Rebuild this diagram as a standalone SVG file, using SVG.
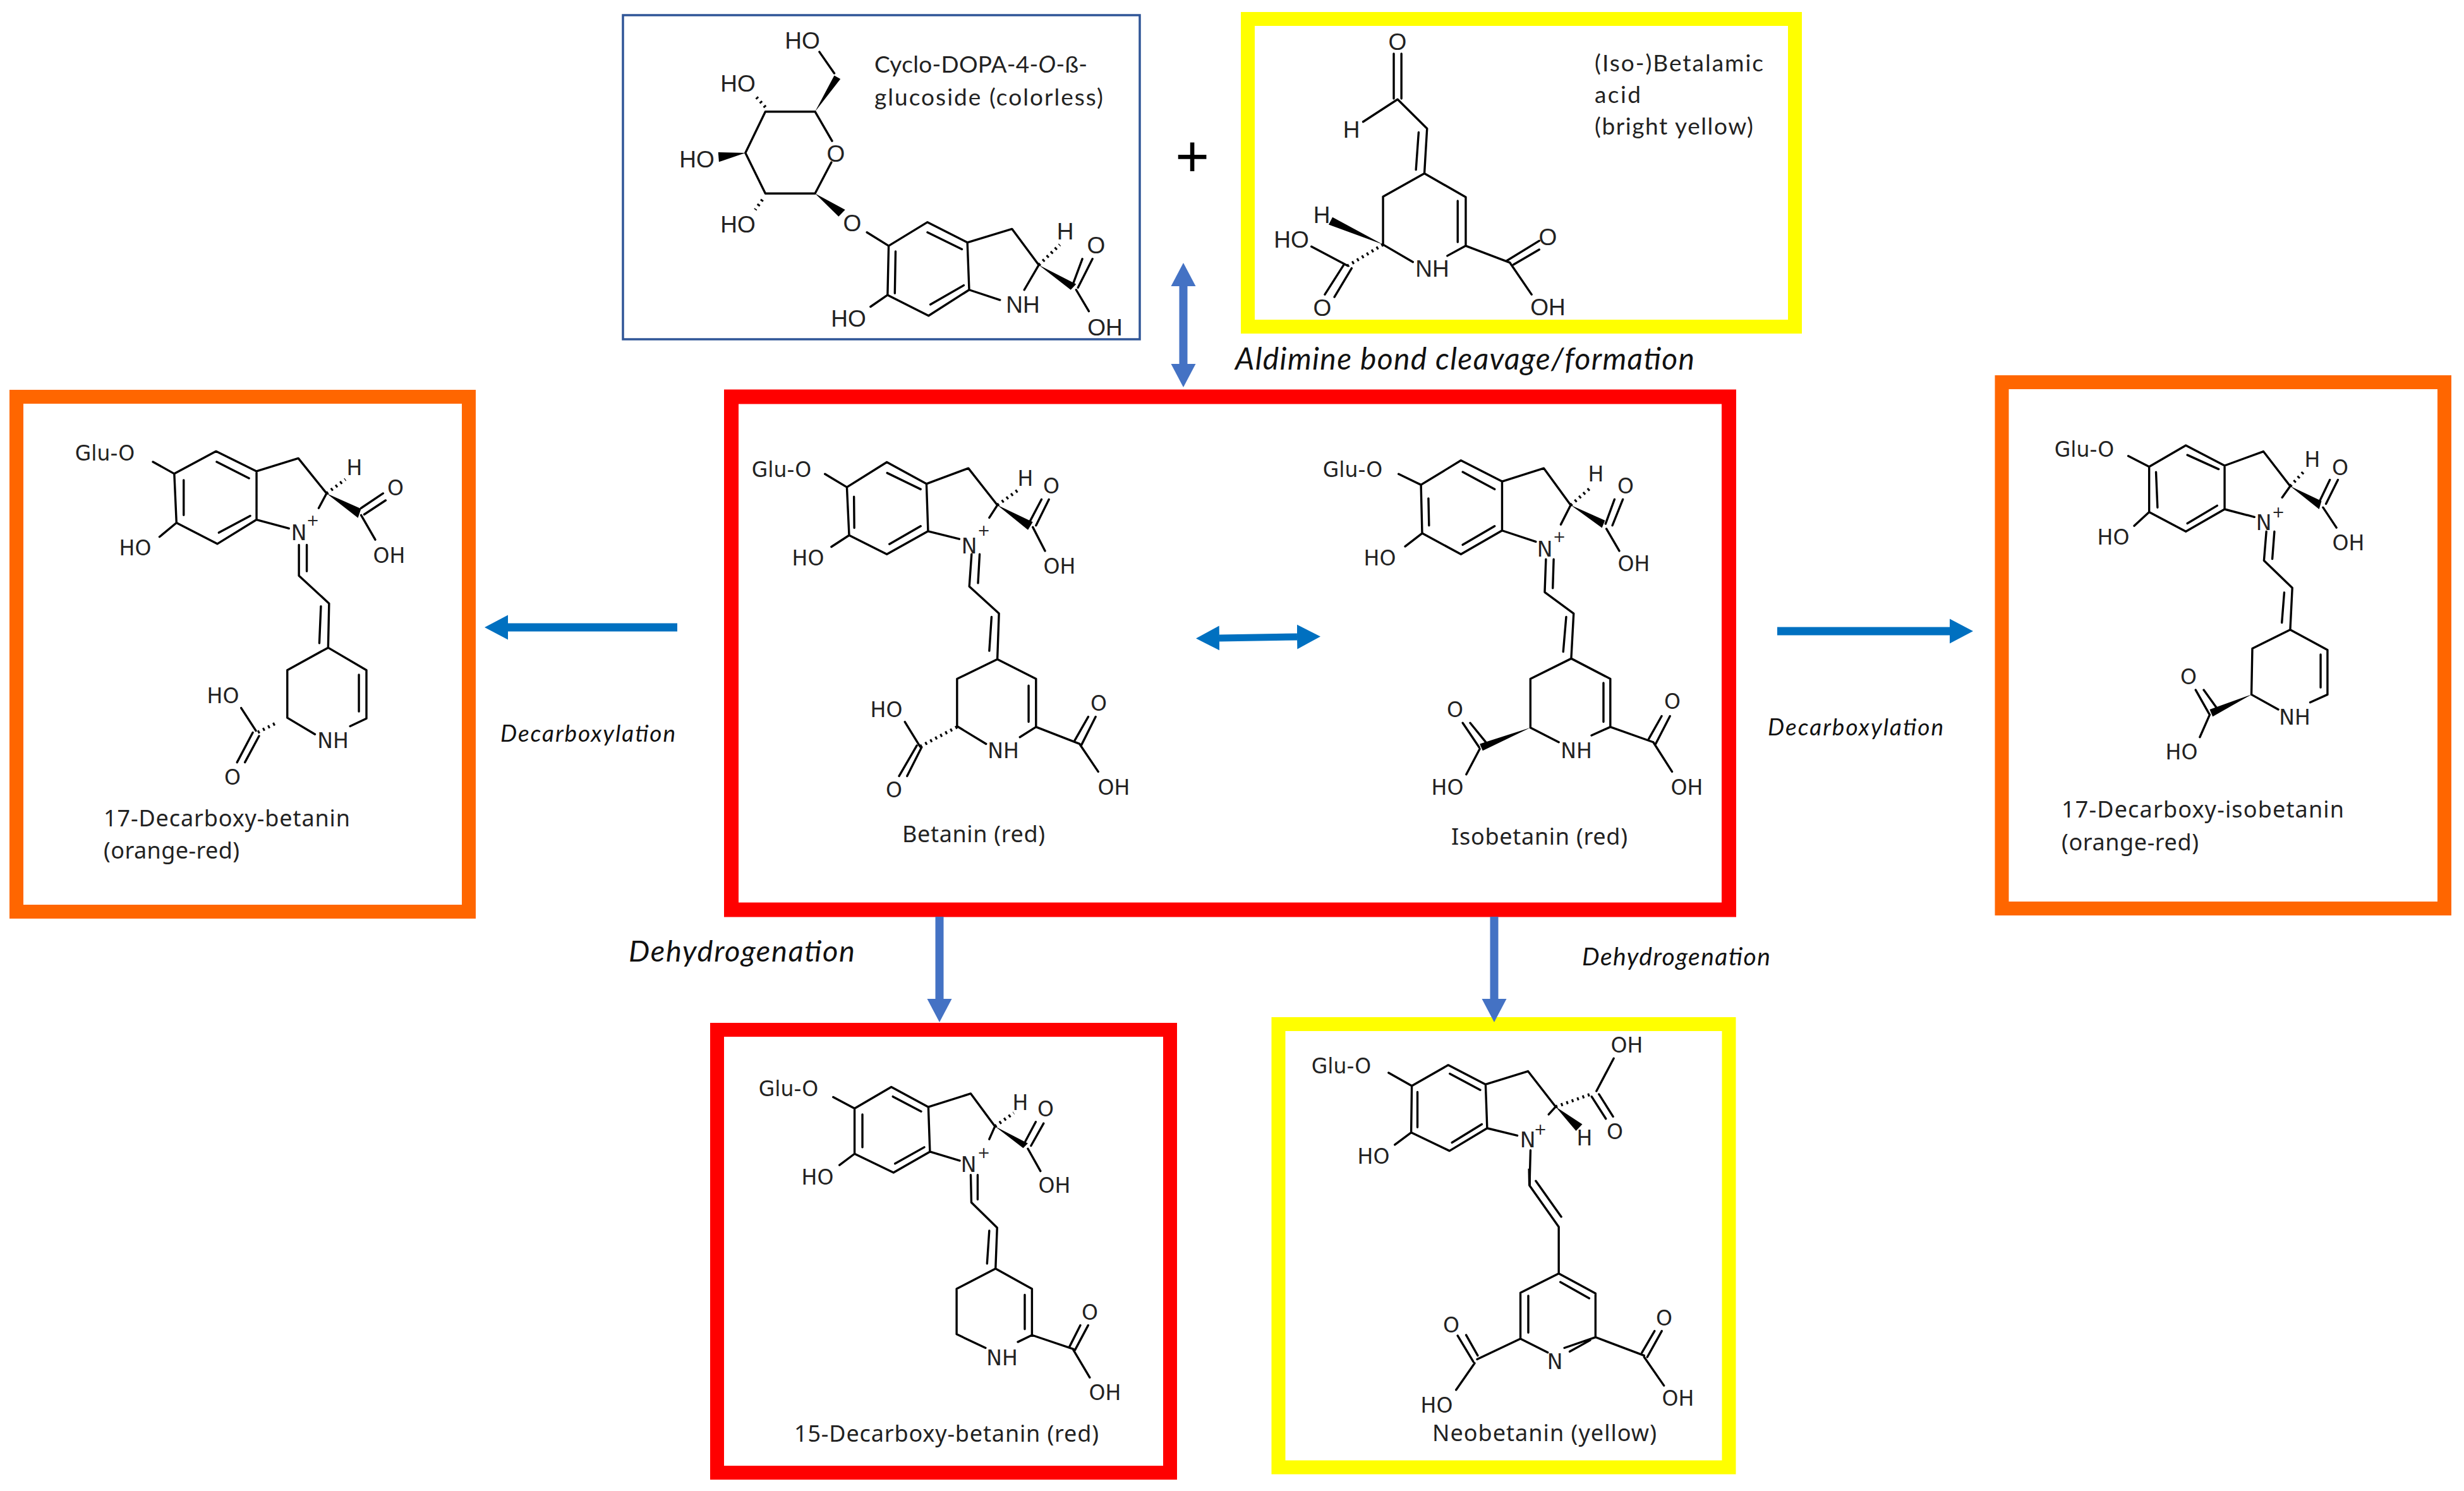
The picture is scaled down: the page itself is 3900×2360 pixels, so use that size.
<svg xmlns="http://www.w3.org/2000/svg" width="3900" height="2360" viewBox="0 0 3900 2360">
<style>
.box{fill:#fff;stroke-width:22}
.red{stroke:#f00}.yel{stroke:#ff0}.org{stroke:#f60}
.b{fill:none;stroke:#000;stroke-width:3.4;vector-effect:non-scaling-stroke;stroke-linecap:round;stroke-linejoin:round}
.h{fill:none;stroke:#000;stroke-width:5;stroke-dasharray:3 6;vector-effect:non-scaling-stroke}
.w{fill:#000;stroke:none}
text{fill:#222}
.a{font:33px "DejaVu Sans",sans-serif;text-anchor:middle}
.s{font:37px "Liberation Sans",Arial,sans-serif;text-anchor:middle}
.p{font:24px "DejaVu Sans",sans-serif;text-anchor:middle}
.c{font:36px "Noto Sans",sans-serif}
.l{font:37px Lato,sans-serif}
.i{font-style:italic;fill:#111}
.ac1{fill:none;stroke:#4472C4;stroke-width:13}
.ac2{fill:none;stroke:#0070C0;stroke-width:13}
</style>
<defs>
<marker id="h1" markerUnits="userSpaceOnUse" markerWidth="38" markerHeight="40" refX="0" refY="20" orient="auto-start-reverse"><path d="M0 0.5L37 20L0 39.5Z" fill="#4472C4"/></marker>
<marker id="h2" markerUnits="userSpaceOnUse" markerWidth="38" markerHeight="40" refX="0" refY="20" orient="auto-start-reverse"><path d="M0 0.5L37 20L0 39.5Z" fill="#0070C0"/></marker>
</defs>

<g id="cyclo-dopa">
<rect x="986" y="24" width="818" height="513" fill="#fff" stroke="#2F5597" stroke-width="3.5"/>
<g transform="translate(960 0) scale(.574 .357)">
<path class="b" d="M575 495L438 495L383 678L438 858L575 858L620 720M575 495L622 625M628 325L587 230M718 1030L778 1090L885 985L995 1075L1000 1285L888 1400L775 1308L778 1090M885 1030L980 1105M985 1265L893 1350M797 1115L795 1300M995 1075L1118 1015L1192 1175L1152 1285M1000 1285L1085 1330M1285 1265L1312 1148M1300 1275L1340 1148M1295 1285L1330 1380M775 1308L728 1360"/>
<path class="h" d="M438 475L410 425M430 885L410 930M1192 1175L1250 1085"/>
<polygon class="w" points="575,495 628,335 645,350"/>
<polygon class="w" points="383,678 308,675 310,718"/>
<polygon class="w" points="575,858 640,960 658,930"/>
<polygon class="w" points="1192,1175 1295,1260 1280,1285"/>
</g>
<text class="s" x="1270" y="77">HO</text><text class="s" x="1168" y="145">HO</text><text class="s" x="1103" y="265">HO</text><text class="s" x="1323" y="256">O</text><text class="s" x="1168" y="368">HO</text><text class="s" x="1349" y="366">O</text><text class="s" x="1686" y="379">H</text><text class="s" x="1735" y="401">O</text><text class="s" x="1619" y="495">NH</text><text class="s" x="1749" y="531">OH</text><text class="s" x="1343" y="517">HO</text>
<text class="l" x="1384" y="115" textLength="337">Cyclo-DOPA-4-<tspan font-style="italic">O</tspan>-ß-</text>
<text class="l" x="1384" y="167" textLength="362">glucoside (colorless)</text>
</g>

<g id="betalamic-acid">
<rect class="box yel" x="1975" y="30" width="866" height="487"/>
<g transform="translate(1900 0) scale(.606 .395)">
<path class="b" d="M505 215L505 395M525 215L525 395M425 488L515 398L592 515L585 695M570 530L563 680M585 695L477 788L477 980L555 1050M645 1025L693 985L693 790L585 695M672 805L672 970M693 985L808 1052M800 1045L885 965M818 1060L885 1000M808 1052L865 1180M385 1065L290 988M375 1060L325 1180M395 1075L350 1190"/>
<path class="h" d="M477 980L385 1065"/>
<polygon class="w" points="477,980 345,870 335,900"/>
</g>
<text class="s" x="2212" y="79">O</text><text class="s" x="2139" y="218">H</text><text class="s" x="2092" y="353">H</text><text class="s" x="2044" y="392">HO</text><text class="s" x="2267" y="438">NH</text><text class="s" x="2450" y="388">O</text><text class="s" x="2450" y="499">OH</text><text class="s" x="2093" y="500">O</text>
<text class="l" x="2524" y="113" textLength="267">(Iso-)Betalamic</text>
<text class="l" x="2524" y="163" textLength="73">acid</text>
<text class="l" x="2524" y="213" textLength="251">(bright yellow)</text>
</g>

<text id="plus" x="1887" y="279" font-family="Liberation Sans, Arial, sans-serif" font-size="92" text-anchor="middle" style="fill:#000">+</text>
<text id="label-aldimine" class="l i" x="1955" y="585" textLength="727" style="font-size:48px">Aldimine bond cleavage/formation</text>

<g id="betanin-isobetanin">
<rect x="1157.500" y="628" width="1579" height="812" fill="#fff" stroke="#f00" stroke-width="23"/>
<g id="betanin">
<g transform="translate(1140 620) scale(.51 .536)">
<path class="b" d="M393 282L517 208L640 272L645 412L517 480L400 424L393 282M518 240L622 288M622 397L525 450M415 310L416 402M640 272L770 226L860 335L835 372M645 412L742 435M325 243L393 282M345 458L400 424M960 385L997 318M980 395L1020 318M970 400L1008 470M780 480L773 575L865 655L860 790M805 480L800 565M842 665L835 765M860 790L735 848L735 988L825 1040M930 1020L980 990L980 848L860 790M957 868L957 975M980 990L1115 1040M1100 1030L1142 960M1120 1045L1165 960M1115 1040L1173 1122M620 1048L573 975M610 1045L555 1135M625 1050L580 1135"/>
<path class="h" d="M860 335L925 290M735 990L620 1048"/>
<polygon class="w" points="860,335 970,385 955,408"/>
</g>
<text class="a" x="1237" y="755">Glu-O</text><text class="a" x="1279" y="895">HO</text><text class="a" x="1623" y="769">H</text><text class="a" x="1664" y="781">O</text><text class="a" x="1534" y="876">N</text><text class="p" x="1557" y="848">+</text><text class="a" x="1677" y="908">OH</text><text class="a" x="1403" y="1135">HO</text><text class="a" x="1588" y="1200">NH</text><text class="a" x="1739" y="1125">O</text><text class="a" x="1763" y="1258">OH</text><text class="a" x="1415" y="1262">O</text>
<text class="c" x="1428" y="1333" textLength="226">Betanin (red)</text>
</g>
<g id="isobetanin">
<g transform="translate(2040 620) scale(.472 .536)">
<path class="b" d="M443 275L577 203L715 265L715 410L577 480L447 418L443 275M583 237L690 288M690 397L583 452M468 315L470 395M368 243L443 275M390 457L447 418M715 265L855 226L945 335L912 392M715 410L828 443M1062 390L1092 318M1085 395L1120 318M1065 405L1108 470M862 495L858 592L955 655L947 785M888 495L885 580M930 665L920 768M947 788L810 848L810 992L905 1035M1015 1015L1078 990L1078 848L947 788M1055 860L1055 975M1078 990L1222 1035M1207 1025L1250 958M1230 1040L1278 958M1222 1035L1285 1122M583 978L638 1050M608 978L665 1040M640 1055L595 1130"/>
<path class="h" d="M945 335L1010 285"/>
<polygon class="w" points="945,335 1060,380 1050,402"/>
<polygon class="w" points="810,992 640,1040 650,1060"/>
</g>
<text class="a" x="2141" y="755">Glu-O</text><text class="a" x="2184" y="895">HO</text><text class="a" x="2526" y="762">H</text><text class="a" x="2573" y="781">O</text><text class="a" x="2445" y="881">N</text><text class="p" x="2468" y="858">+</text><text class="a" x="2586" y="904">OH</text><text class="a" x="2303" y="1135">O</text><text class="a" x="2495" y="1200">NH</text><text class="a" x="2647" y="1122">O</text><text class="a" x="2670" y="1258">OH</text><text class="a" x="2291" y="1258">HO</text>
<text class="c" x="2297" y="1337" textLength="279">Isobetanin (red)</text>
</g>
</g>

<g id="decarboxy-betanin-17">
<rect class="box org" x="26" y="628" width="716" height="815"/>
<g transform="translate(0 610) scale(.497 .555)">
<path class="b" d="M555 252L688 188L817 245L817 383L692 452L562 392L555 252M690 218L793 265M797 372L697 420M585 270L585 370M487 218L555 252M508 432L562 392M817 245L950 208L1040 308L1015 350M817 383L920 408M1150 350L1220 308M1160 368L1228 328M1150 370L1195 440M952 455L952 543L1048 622L1045 748M977 455L977 530M1022 630L1017 735M1045 748L915 812L915 948L1003 995M1115 972L1167 950L1167 812L1045 748M1143 825L1143 930M815 985L768 920M805 990L755 1075M825 1000L780 1075"/>
<path class="h" d="M1040 308L1100 268M875 965L820 990"/>
<polygon class="w" points="1040,308 1150,352 1140,378"/>
</g>
<text class="a" x="166" y="729">Glu-O</text><text class="a" x="214" y="879">HO</text><text class="a" x="561" y="752">H</text><text class="a" x="626" y="784">O</text><text class="a" x="473" y="855">N</text><text class="p" x="495" y="832">+</text><text class="a" x="616" y="891">OH</text><text class="a" x="353" y="1113">HO</text><text class="a" x="527" y="1184">NH</text><text class="a" x="368" y="1242">O</text>
<text class="c" x="164" y="1308" textLength="390">17-Decarboxy-betanin</text>
<text class="c" x="164" y="1359" textLength="215">(orange-red)</text>
</g>

<g id="decarboxy-isobetanin-17">
<rect class="box org" x="3168.500" y="605" width="700.500" height="833"/>
<g transform="translate(3160 590) scale(.472 .561)">
<path class="b" d="M512 265L635 205L765 262L765 385L635 448L512 393L512 265M640 232L745 272M740 375L640 425M535 280L540 380M442 235L512 265M462 432L512 393M765 262L895 222L985 320L958 352M765 385L865 407M1085 360L1118 302M1105 370L1145 302M1095 380L1140 437M905 448L897 530L992 607L985 725M932 448L925 525M965 620L957 705M985 725L858 778L855 908L945 950M1052 930L1110 908L1110 782L985 725M1087 795L1087 888M668 895L715 965M695 895L738 945M715 965L682 1028"/>
<path class="h" d="M985 320L1035 275"/>
<polygon class="w" points="985,320 1090,362 1082,385"/>
<polygon class="w" points="855,908 715,950 725,970"/>
</g>
<text class="a" x="3299" y="723">Glu-O</text><text class="a" x="3345" y="862">HO</text><text class="a" x="3660" y="739">H</text><text class="a" x="3704" y="752">O</text><text class="a" x="3583" y="839">N</text><text class="p" x="3606" y="819">+</text><text class="a" x="3717" y="871">OH</text><text class="a" x="3464" y="1083">O</text><text class="a" x="3632" y="1147">NH</text><text class="a" x="3453" y="1202">HO</text>
<text class="c" x="3263" y="1294" textLength="447">17-Decarboxy-isobetanin</text>
<text class="c" x="3263" y="1346" textLength="217">(orange-red)</text>
</g>

<g id="decarboxy-betanin-15">
<rect class="box red" x="1135" y="1630" width="717" height="701"/>
<g transform="translate(1120 1620) scale(.497 .472)">
<path class="b" d="M468 285L585 213L703 280L708 430L592 500L468 437L468 285M590 245L680 295M690 415L597 470M493 305L493 415M400 247L468 285M420 475L468 437M703 280L838 235L915 345L897 388M708 430L803 460M1012 395L1045 330M1030 410L1070 335M1020 420L1060 495M838 508L840 600L922 685L917 822M860 508L860 590M897 695L890 805M917 822L793 890L793 1042L885 1088M988 1068L1033 1045L1033 890L917 822M1010 910L1010 1025M1033 1045L1165 1092M1152 1085L1187 1012M1170 1095L1212 1012M1165 1095L1217 1187"/>
<path class="h" d="M915 345L975 300"/>
<polygon class="w" points="915,345 1020,402 1005,418"/>
</g>
<text class="a" x="1248" y="1735">Glu-O</text><text class="a" x="1294" y="1875">HO</text><text class="a" x="1615" y="1757">H</text><text class="a" x="1655" y="1767">O</text><text class="a" x="1533" y="1855">N</text><text class="p" x="1557" y="1833">+</text><text class="a" x="1669" y="1888">OH</text><text class="a" x="1725" y="2089">O</text><text class="a" x="1586" y="2161">NH</text><text class="a" x="1749" y="2216">OH</text>
<text class="c" x="1257" y="2282" textLength="482">15-Decarboxy-betanin (red)</text>
</g>

<g id="neobetanin">
<rect class="box yel" x="2023.500" y="1621" width="713" height="701.500"/>
<g transform="translate(2000 1600) scale(.497 .485)">
<path class="b" d="M472 245L588 177L707 240L712 383L592 457L470 397L472 245M593 205L690 258M695 370L600 430M490 265L490 380M398 202L472 245M418 437L470 397M707 240L842 197L930 313L908 338M712 383L808 407M1060 262L1115 155M1045 280L1090 352M1068 272L1113 345M850 455L847 570L940 705L940 857L818 920L818 1070L905 1115M958 1100L1057 1065L1057 922L940 857M867 555L948 672M975 1112L1040 1075M945 885L1037 938M843 930L843 1050M818 1070L680 1137M668 1145L618 1060M682 1125L645 1058M672 1150L613 1237M1057 1065L1212 1125M1205 1115L1245 1045M1222 1130L1268 1045M1212 1130L1275 1223"/>
<path class="h" d="M930 313L1048 270"/>
<polygon class="w" points="930,313 1015,370 995,392"/>
<polygon class="w" points="842,515 851,515 851,570 843,570"/>
</g>
<text class="a" x="2123" y="1699">Glu-O</text><text class="a" x="2174" y="1842">HO</text><text class="a" x="2575" y="1666">OH</text><text class="a" x="2418" y="1816">N</text><text class="p" x="2438" y="1796">+</text><text class="a" x="2508" y="1813">H</text><text class="a" x="2556" y="1803">O</text><text class="a" x="2297" y="2109">O</text><text class="a" x="2461" y="2167">N</text><text class="a" x="2634" y="2098">O</text><text class="a" x="2274" y="2236">HO</text><text class="a" x="2656" y="2225">OH</text>
<text class="c" x="2267" y="2281" textLength="355">Neobetanin (yellow)</text>
</g>

<g id="connectors">
<line class="ac1" x1="1873" y1="453" x2="1873" y2="576" marker-start="url(#h1)" marker-end="url(#h1)"/>
<line class="ac2" x1="1072" y1="993" x2="804" y2="993" marker-end="url(#h2)"/>
<line class="ac2" x1="2813" y1="999" x2="3086" y2="999" marker-end="url(#h2)"/>
<line class="ac2" x1="1930" y1="1010" x2="2053" y2="1008" style="stroke-width:11" marker-start="url(#h2)" marker-end="url(#h2)"/>
<line class="ac1" x1="1487" y1="1451" x2="1487" y2="1581" marker-end="url(#h1)"/>
<line class="ac1" x1="2365" y1="1451" x2="2365" y2="1581" marker-end="url(#h1)"/>
</g>

<g id="labels">
<text class="l i" x="792" y="1174" textLength="277">Decarboxylation</text>
<text class="l i" x="2798" y="1164" textLength="278">Decarboxylation</text>
<text class="l i" x="995" y="1522" textLength="358" style="font-size:47px">Dehydrogenation</text>
<text class="l i" x="2504" y="1528" textLength="298" style="font-size:39px">Dehydrogenation</text>
</g>
</svg>
